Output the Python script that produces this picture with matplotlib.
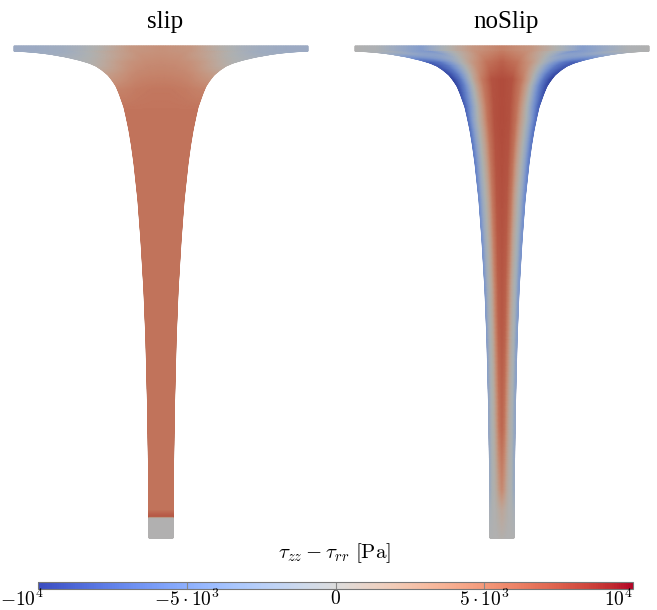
import numpy as np
import matplotlib
matplotlib.use("Agg")
import matplotlib.pyplot as plt
from matplotlib.colors import ListedColormap, Normalize
from matplotlib.cm import ScalarMappable

plt.rcParams['mathtext.fontset'] = 'cm'

# ---- data (pixel units of the original rendering) ----
titles = ["slip", "noSlip"]
centers = [161, 502]

# funnel wall profile: vertical position and half-width
prof_y = [46, 51, 52, 54, 57, 60, 63, 66, 70, 75, 80, 86, 93, 100, 107, 118,
          130, 145, 163, 200, 240, 290, 340, 400, 460, 517, 538]
prof_half = [147, 147, 129, 112, 95, 82, 72, 65, 59, 53, 49, 45, 42, 39.5, 37,
             34.5, 32, 29.5, 27, 23, 20, 17, 15, 13.5, 12.5, 12, 12]

# radial stations (fraction of half-width) for the field tables
eta_cols = [0.0, 0.2, 0.4, 0.55, 0.7, 0.85, 1.0]

# tau_zz - tau_rr [Pa], slip case
slip_rows = [46, 51, 52, 63, 75, 90, 110, 510, 517, 518.5, 538]
slip_vals = [
    [3500, 3000, 500, -800, -1500, -1800, -1800],
    [3500, 3000, 500, -800, -1500, -1800, -1800],
    [3500, 3200, 1500, 0, -1200, -1700, -1800],
    [4000, 3900, 3500, 2800, 1800, 800, 0],
    [4500, 4450, 4300, 4000, 3500, 3000, 2500],
    [5200, 5200, 5100, 5000, 4800, 4600, 4500],
    [5400, 5400, 5400, 5400, 5400, 5400, 5400],
    [5400, 5400, 5400, 5400, 5400, 5400, 5400],
    [7000, 7000, 7000, 7000, 7000, 7000, 7000],
    [0, 0, 0, 0, 0, 0, 0],
    [0, 0, 0, 0, 0, 0, 0],
]

# tau_zz - tau_rr [Pa], noSlip case
noslip_rows = [46, 51, 52, 63, 80, 120, 200, 330, 430, 490, 510, 538]
noslip_vals = [
    [4500, 3000, -500, -3500, -2000, -300, 0],
    [4500, 3000, -500, -3500, -2000, -300, 0],
    [5000, 3500, -500, -4000, -3000, -1000, -200],
    [6500, 5500, 3000, 0, -3500, -6500, -8000],
    [7500, 7200, 5000, 2000, -2000, -6500, -9500],
    [7500, 7300, 5500, 2500, 0, -3000, -7000],
    [7300, 7000, 5000, 2000, 0, -2000, -5000],
    [6800, 6300, 4000, 1500, 0, -1000, -3500],
    [6000, 5000, 2500, 800, 0, -800, -2500],
    [4000, 2800, 1200, 400, 0, -600, -2000],
    [1500, 1000, 500, 0, 0, -300, -800],
    [300, 200, 0, 0, 0, 0, 0],
]

vmin, vmax = -1e4, 1e4
cbar_ticks = [-1e4, -5e3, 0, 5e3, 1e4]
cbar_ticklabels = [r'$-10^4$', r'$-5\cdot10^3$', r'$0$', r'$5\cdot10^3$', r'$10^4$']
cbar_label = r'$\tau_{zz} - \tau_{rr}\ [\mathrm{Pa}]$'

# ---- figure ----
W, H = 657, 610
fig = plt.figure(figsize=(W / 100, H / 100), dpi=100)
ax = fig.add_axes([0, 0, 1, 1])
ax.set_xlim(0, W)
ax.set_ylim(H, 0)
ax.axis('off')

base = plt.get_cmap('coolwarm')
shaded = base(np.linspace(0, 1, 256))
shaded[:, :3] *= 0.80          # surface shading of the rendered field
field_cmap = ListedColormap(shaded)
norm = Normalize(vmin, vmax)

Y = np.unique(np.concatenate([np.linspace(prof_y[0], prof_y[-1], 900),
                              prof_y, slip_rows, noslip_rows]))
ETA = np.linspace(-1, 1, 121)
half = np.interp(Y, prof_y, prof_half)


def field(rows, vals):
    vals = np.asarray(vals, float)
    T = np.array([np.interp(Y, rows, vals[:, j]) for j in range(len(eta_cols))])
    V = np.empty((len(Y), len(ETA)))
    for i in range(len(Y)):
        V[i] = np.interp(np.abs(ETA), eta_cols, T[:, i])
    return V


for cx, title, rows, vals in zip(centers, titles,
                                 [slip_rows, noslip_rows],
                                 [slip_vals, noslip_vals]):
    X = cx + ETA[None, :] * half[:, None]
    YY = np.repeat(Y[:, None], len(ETA), axis=1)
    V = field(rows, vals)
    ax.pcolormesh(X, YY, V, cmap=field_cmap, norm=norm, shading='gouraud')
    ax.text(cx + 4, 22, title, ha='center', va='center',
            family='Liberation Serif', fontsize=18)

# ---- colorbar ----
cax = fig.add_axes([38 / W, 1 - 589 / H, (633 - 38) / W, 7 / H])
cb = fig.colorbar(ScalarMappable(norm=norm, cmap='coolwarm'), cax=cax,
                  orientation='horizontal')
cb.outline.set_edgecolor('#777777')
cb.outline.set_linewidth(0.8)
cb.set_ticks(cbar_ticks)
cb.set_ticklabels([])
cax.tick_params(length=0)
for t in cbar_ticks[1:-1]:
    cax.axvline(t, color='#888888', lw=0.8)
lab_px = 599
label_y = 1 - lab_px / H
for t, lab in zip(cbar_ticks, cbar_ticklabels):
    if t == cbar_ticks[0]:
        fig.text(0.5 / W, label_y, lab, ha='left', va='center', fontsize=14)
    elif t == cbar_ticks[-1]:
        cax.text(t, (589 - lab_px) / 7, lab, transform=cax.get_xaxis_transform(),
                 ha='right', va='center', fontsize=14)
    else:
        cax.text(t, (589 - lab_px) / 7, lab, transform=cax.get_xaxis_transform(),
                 ha='center', va='center', fontsize=14)
fig.text(334 / W, 1 - 553 / H, cbar_label, ha='center', va='center', fontsize=15)

fig.savefig('out.png', dpi=100)
